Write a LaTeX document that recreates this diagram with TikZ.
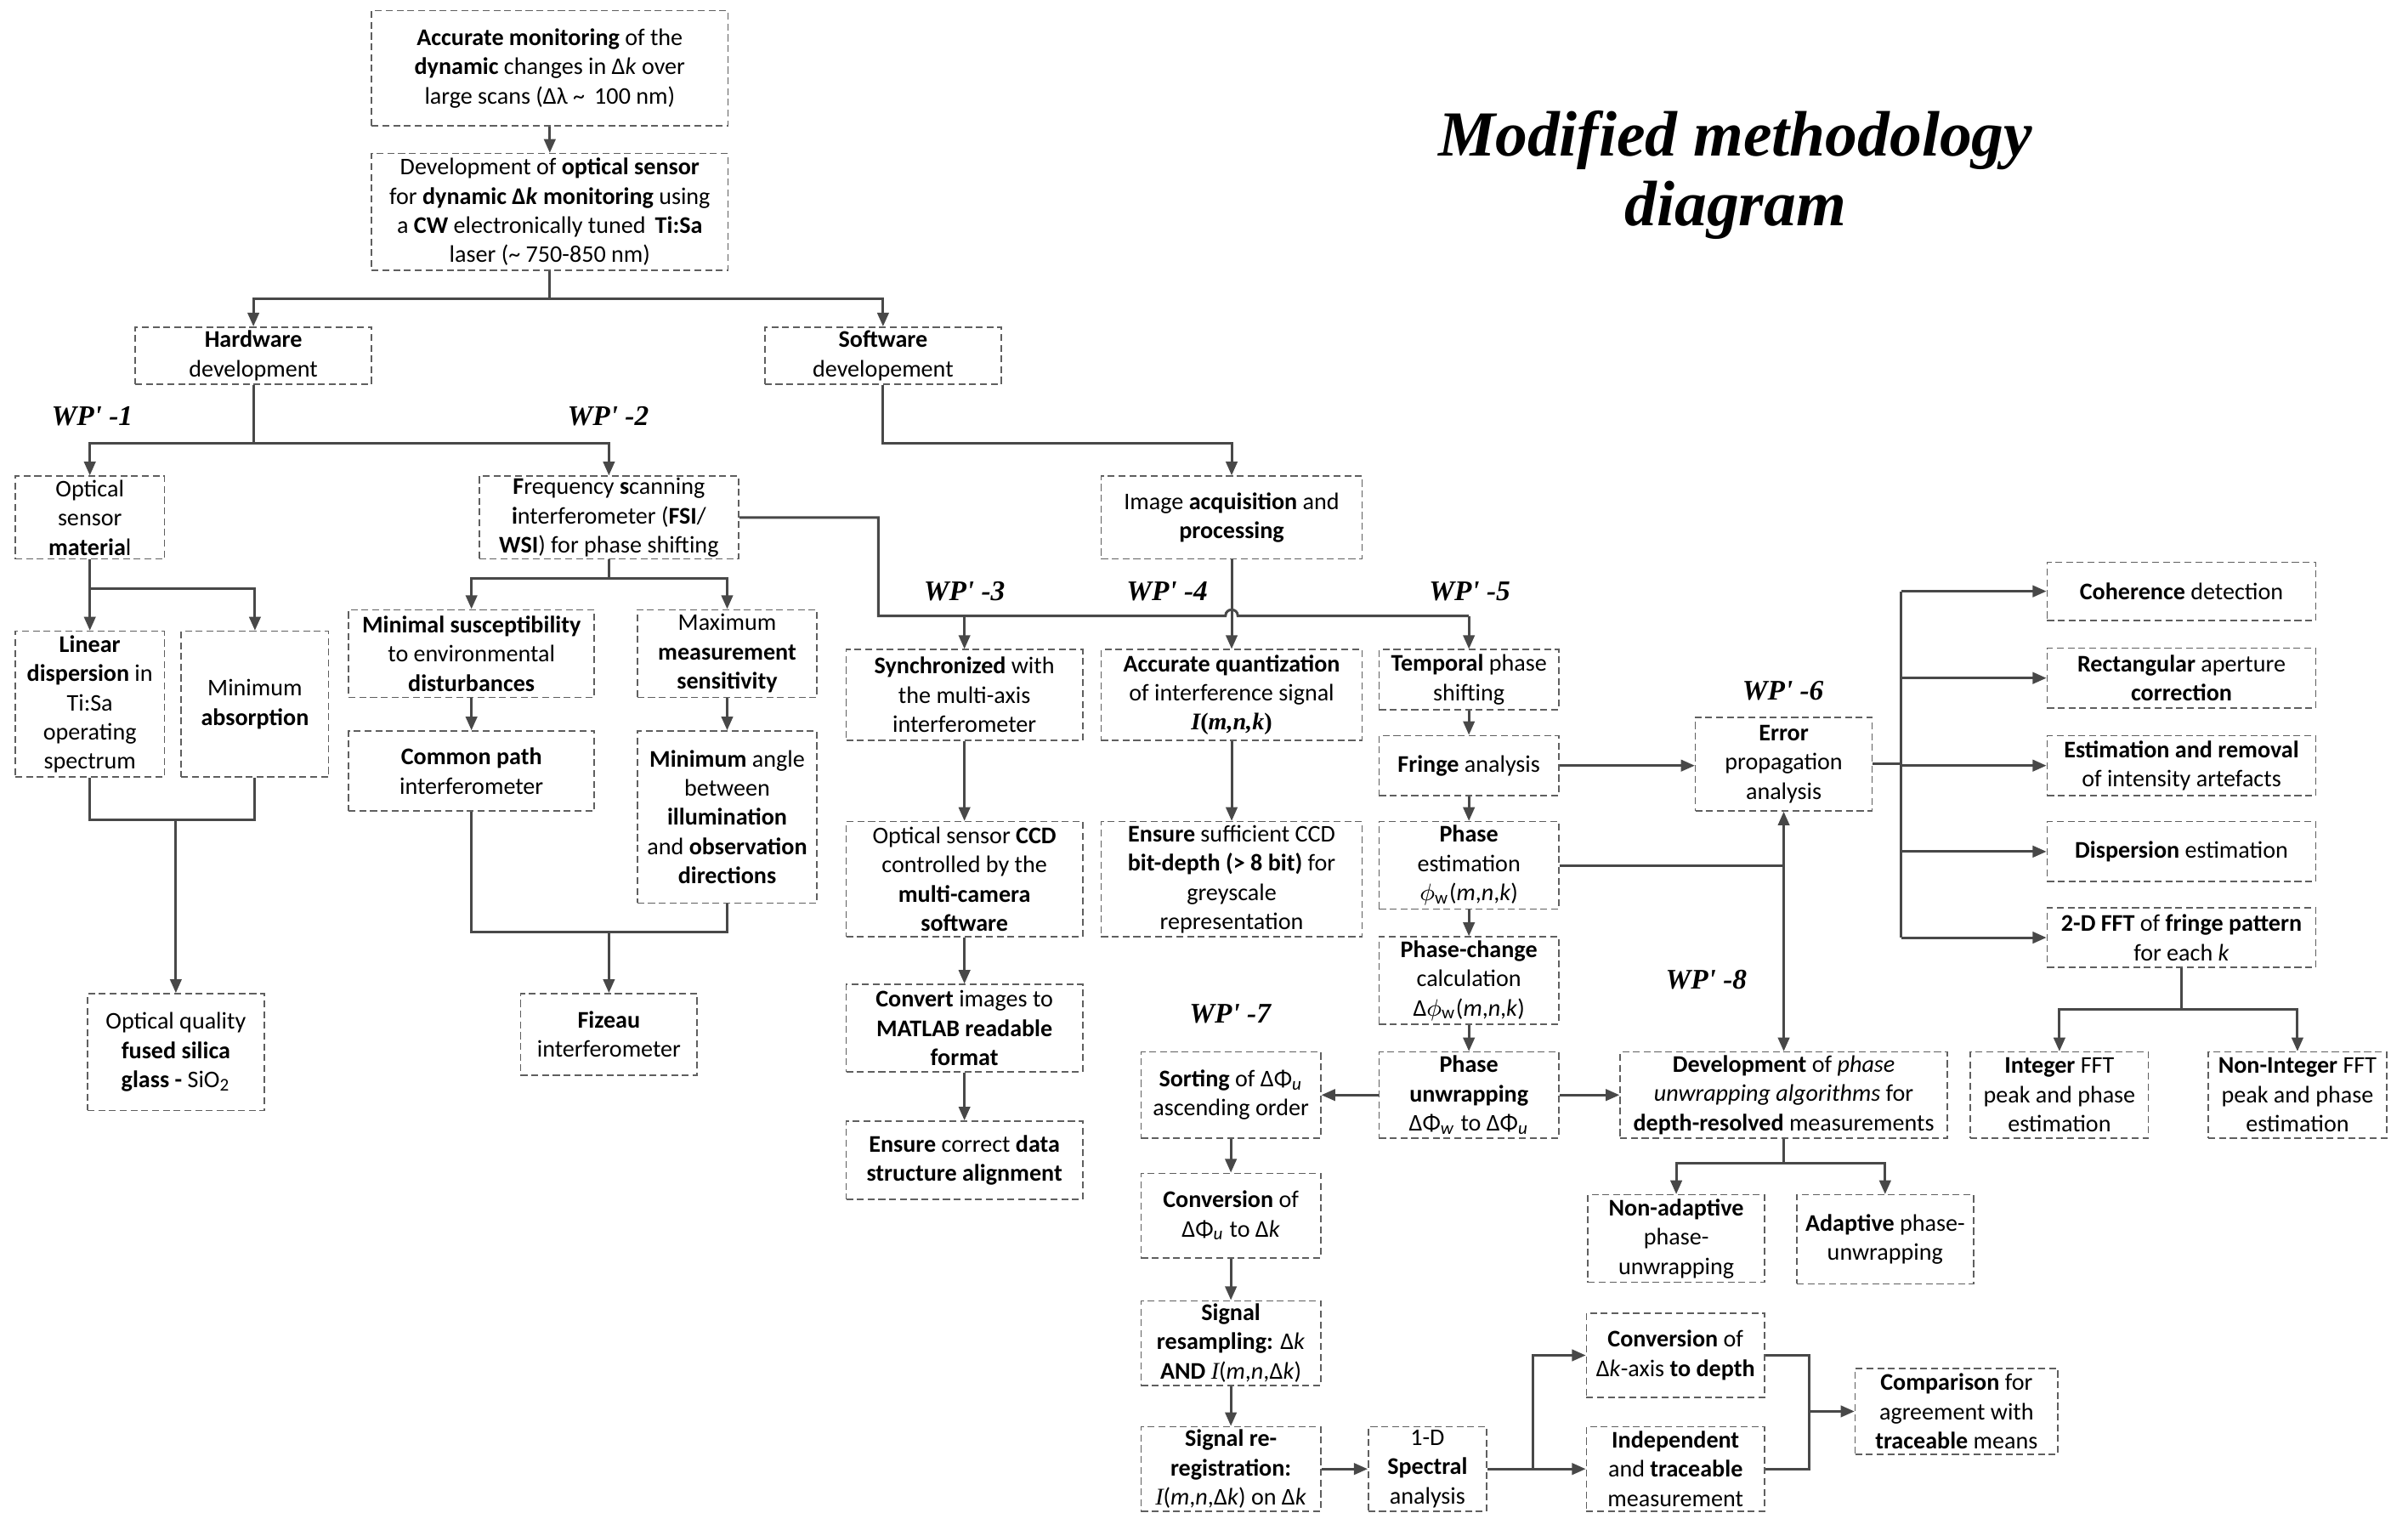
\documentclass[tikz,border=0pt]{standalone}
\usepackage{fontspec}
\setmainfont{Carlito}
\newfontfamily\tnr{Liberation Serif}
\usetikzlibrary{arrows.meta,calc}
\definecolor{ln}{RGB}{72,72,72}
\definecolor{bd}{RGB}{95,95,95}
\tikzset{
 box/.style={draw=bd,line width=0.45pt,dash pattern=on 2.3pt off 1.3pt,align=center,inner sep=0.5pt,font=\fontsize{8}{9.8}\selectfont,text=black},
 line/.style={draw=ln,line width=0.85pt},
 arr/.style={line,-{Triangle[length=4.6pt,width=3.8pt]}},
 wp/.style={font=\tnr\bfseries\itshape\fontsize{9.5}{11}\selectfont,inner sep=0pt},
}
\newcommand\bx[6]{\node[box,minimum width={(#3-#1)*0.018068cm},minimum height={(#4-#2)*0.018068cm}] (#5) at ({(#1+#3)/2},{(#2+#4)/2}) {#6};}
\newcommand\ital[1]{{\tnr\itshape #1}}
\begin{document}
\begin{tikzpicture}[x={(0.018068cm,0)},y={(0,-0.018068cm)}]
\useasboundingbox (0,0) rectangle (1568,985);
% title
\node[font=\tnr\bfseries\itshape\fontsize{21.5}{23.1}\selectfont,align=center] (title) at (1130,114) {Modified methodology\\diagram};
% boxes
\bx{242}{7}{474}{82}{A}{\textbf{Accurate monitoring} of the\\ \textbf{dynamic} changes in Δ\textit{k} over\\ large scans (Δλ \textasciitilde{}\, 100 nm)}
\bx{242}{100}{474}{176}{B}{Development of \textbf{optical sensor}\\ for \textbf{dynamic Δ\textit{k} monitoring} using\\ a \textbf{CW} electronically tuned \,\textbf{Ti:Sa}\\ laser (\textasciitilde{} 750-850 nm)}
\bx{88}{213}{242}{250}{HW}{\textbf{Hardware}\\ development}
\bx{498}{213}{652}{250}{SW}{\textbf{Software}\\ developement}
\bx{10}{310}{107}{364}{OSM}{Optical\\ sensor\\ \textbf{materia}l}
\bx{312}{310}{481}{364}{FSI}{\textbf{F}requency \textbf{s}canning\\ \textbf{i}nterferometer (\textbf{FSI}/\\ \textbf{WSI}) for phase shifting}
\bx{717}{310}{887}{364}{IAP}{Image \textbf{acquisition} and\\ \textbf{processing}}
\bx{10}{411}{107}{506}{LD}{\textbf{Linear}\\ \textbf{dispersion} in\\ Ti:Sa\\ operating\\ spectrum}
\bx{118}{411}{214}{506}{MA}{Minimum\\ \textbf{absorption}}
\bx{227}{397}{387}{454}{MS}{\textbf{Minimal susceptibility}\\ to environmental\\ \textbf{disturbances}}
\bx{415}{397}{532}{454}{MMS}{Maximum\\ \textbf{measurement}\\ \textbf{sensitivity}}
\bx{227}{476}{387}{528}{CP}{\textbf{Common path}\\ interferometer}
\bx{415}{476}{532}{588}{MAng}{\textbf{Minimum} angle\\ between\\ \textbf{illumination}\\ and \textbf{observation}\\ \textbf{directions}}
\bx{57}{647}{172}{723}{OQ}{Optical quality\\ \textbf{fused silica}\\ \textbf{glass -} SiO\textsubscript{2}}
\bx{339}{647}{454}{700}{FZ}{\textbf{Fizeau}\\ interferometer}
\bx{551}{423}{705}{482}{SY}{\textbf{Synchronized} with\\ the multi-axis\\ interferometer}
\bx{717}{423}{887}{482}{AQ}{\textbf{Accurate quantization}\\ of interference signal\\ {\tnr\bfseries\itshape I}{\tnr\bfseries (}{\tnr\bfseries\itshape m,n,k}{\tnr\bfseries )}}
\bx{551}{535}{705}{610}{CCD}{Optical sensor \textbf{CCD}\\ controlled by the\\ \textbf{multi-camera}\\ \textbf{software}}
\bx{717}{535}{887}{610}{EB}{\textbf{Ensure} sufficient CCD\\ \textbf{bit-depth (> 8 bit)} for\\ greyscale\\ representation}
\bx{551}{641}{705}{698}{CV}{\textbf{Convert} images to\\ \textbf{MATLAB readable}\\ \textbf{format}}
\bx{551}{730}{705}{781}{ED}{\textbf{Ensure} correct \textbf{data}\\ \textbf{structure alignment}}
\bx{898}{423}{1015}{462}{TPS}{\textbf{Temporal} phase\\ shifting}
\bx{898}{479}{1015}{518}{FA}{\textbf{Fringe} analysis}
\bx{898}{535}{1015}{592}{PE}{\textbf{Phase}\\ estimation\\ $\phi$\textsubscript{w}(\textit{m},\textit{n},\textit{k})}
\bx{898}{610}{1015}{667}{PCC}{\textbf{Phase-change}\\ calculation\\ Δ$\phi$\textsubscript{w}(\textit{m},\textit{n},\textit{k})}
\bx{898}{685}{1015}{741}{PU}{\textbf{Phase}\\ \textbf{unwrapping}\\ ΔΦ\textsubscript{\textit{w}} to ΔΦ\textsubscript{\textit{u}}}
\bx{1104}{467}{1219}{528}{EPA}{\textbf{Error}\\ propagation\\ analysis}
\bx{1333}{366}{1508}{404}{CD}{\textbf{Coherence} detection}
\bx{1333}{422}{1508}{461}{RA}{\textbf{Rectangular} aperture\\ \textbf{correction}}
\bx{1333}{479}{1508}{518}{ER}{\textbf{Estimation and removal}\\ of intensity artefacts}
\bx{1333}{535}{1508}{574}{DE}{\textbf{Dispersion} estimation}
\bx{1333}{591}{1508}{630}{FFT}{\textbf{2-D FFT} of \textbf{fringe pattern}\\ for each \textit{k}}
\bx{1283}{685}{1399}{741}{IF}{\textbf{Integer} FFT\\ peak and phase\\ estimation}
\bx{1438}{685}{1554}{741}{NIF}{\textbf{Non-Integer} FFT\\ peak and phase\\ estimation}
\bx{1055}{685}{1268}{741}{DEV}{\textbf{Development} of \textit{phase}\\ \textit{unwrapping algorithms} for\\ \textbf{depth-resolved} measurements}
\bx{1034}{778}{1149}{835}{NA}{\textbf{Non-adaptive}\\ phase-\\ unwrapping}
\bx{1170}{778}{1285}{836}{AD}{\textbf{Adaptive} phase-\\ unwrapping}
\bx{743}{685}{860}{741}{SO}{\textbf{Sorting} of ΔΦ\textsubscript{\textit{u}}\\ ascending order}
\bx{743}{764}{860}{819}{CO}{\textbf{Conversion} of\\ ΔΦ\textsubscript{\textit{u}} to Δ\textit{k}}
\bx{743}{847}{860}{902}{SR}{\textbf{Signal}\\ \textbf{resampling:} Δ\textit{k}\\ \textbf{AND} \ital{I}(\textit{m},\textit{n},Δ\textit{k})}
\bx{743}{929}{860}{984}{SRR}{\textbf{Signal re-}\\ \textbf{registration:}\\ \ital{I}(\textit{m},\textit{n},Δ\textit{k}) on Δ\textit{k}}
\bx{891}{929}{968}{984}{SA}{1-D\\ \textbf{Spectral}\\ analysis}
\bx{1033}{855}{1149}{910}{CDp}{\textbf{Conversion} of\\ Δ\textit{k}-axis \textbf{to depth}}
\bx{1033}{929}{1149}{984}{IT}{\textbf{Independent}\\ and \textbf{traceable}\\ measurement}
\bx{1208}{891}{1340}{947}{CMP}{\textbf{Comparison} for\\ agreement with\\ \textbf{traceable} means}
% WP labels
\node[wp] (wp1) at (60,271) {WP\textquotesingle{} -1};
\node[wp] (wp2) at (396,271) {WP\textquotesingle{} -2};
\node[wp] (wp3) at (628,385) {WP\textquotesingle{} -3};
\node[wp] (wp4) at (760,385) {WP\textquotesingle{} -4};
\node[wp] (wp5) at (957,385) {WP\textquotesingle{} -5};
\node[wp] (wp6) at (1161,450) {WP\textquotesingle{} -6};
\node[wp] (wp7) at (801,660) {WP\textquotesingle{} -7};
\node[wp] (wp8) at (1111,638) {WP\textquotesingle{} -8};
% connectors
\draw[arr] (A) -- (B);
\draw[line] (B.south) -- ++(0,18) coordinate (j1);
\draw[arr] (j1) -| (HW.north);
\draw[arr] (j1) -| (SW.north);
\draw[line] (HW.south) -- ++(0,38) coordinate (j2);
\draw[arr] (j2) -| (OSM.north);
\draw[arr] (j2) -| (FSI.north);
\draw[arr] (SW.south) -- ++(0,38) -| (IAP.north);
\draw[line] (OSM.south) -- ++(0,19) coordinate (j3);
\draw[arr] (j3) -| (LD.north);
\draw[arr] (j3) -| (MA.north);
\draw[line] (FSI.south) -- ++(0,12) coordinate (j4);
\draw[arr] (j4) -| (MS.north);
\draw[arr] (j4) -| (MMS.north);
\draw[arr] (MS) -- (CP);
\draw[arr] (MMS) -- (MAng);
\coordinate (b1) at (572,401);
\coordinate (hop) at (IAP.south |- b1);
\draw[line] (FSI.east) -| (b1) -- ($(hop)+(-4,0)$) .. controls ($(hop)+(-4,-5.3)$) and ($(hop)+(4,-5.3)$) .. ($(hop)+(4,0)$) -- (TPS.north |- b1);
\draw[arr] (TPS.north |- b1) -- (TPS.north);
\draw[arr] (SY.north |- b1) -- (SY.north);
\draw[arr] (IAP) -- (AQ);
\draw[arr] (SY) -- (CCD);
\draw[arr] (CCD) -- (CV);
\draw[arr] (CV) -- (ED);
\draw[arr] (AQ) -- (EB);
\coordinate (jq) at (OQ.north |- 0,534);
\draw[line] (LD.south) -- (LD.south |- jq) -- (MA.south |- jq) -- (MA.south);
\draw[arr] (jq) -- (OQ.north);
\coordinate (jf) at (FZ.north |- 0,607);
\draw[line] (CP.south) -- (CP.south |- jf) -- (MAng.south |- jf) -- (MAng.south);
\draw[arr] (jf) -- (FZ.north);
\draw[arr] (TPS) -- (FA);
\draw[arr] (FA) -- (PE);
\draw[arr] (PE) -- (PCC);
\draw[arr] (PCC) -- (PU);
\draw[arr] (FA.east) -- (EPA.west |- FA.east);
\coordinate (jx) at (EPA.south |- PE.east);
\draw[line] (PE.east) -- (jx);
\draw[arr] (jx) -- (EPA.south);
\draw[arr] (jx) -- (DEV.north);
\coordinate (bx) at (1238,0);
\draw[line] (EPA.east) -- (EPA.east -| bx);
\draw[line] (bx |- CD.west) -- (bx |- FFT.west);
\foreach \n in {CD,RA,ER,DE,FFT} \draw[arr] (bx |- \n.west) -- (\n.west);
\draw[line] (FFT.south) -- ++(0,27) coordinate (j6);
\draw[arr] (j6) -| (IF.north);
\draw[arr] (j6) -| (NIF.north);
\draw[arr] (PU.east) -- (DEV.west);
\draw[arr] (PU.west) -- (SO.east);
\draw[line] (DEV.south) -- ++(0,16) coordinate (j7);
\draw[arr] (j7) -| (NA.north);
\draw[arr] (j7) -| (AD.north);
\draw[arr] (SO) -- (CO);
\draw[arr] (CO) -- (SR);
\draw[arr] (SR) -- (SRR);
\draw[arr] (SRR) -- (SA);
\coordinate (js) at (998,956.5);
\draw[line] (SA.east) -- (js);
\draw[arr] (js) |- (CDp.west);
\draw[arr] (js) -- (IT.west);
\coordinate (jc) at (1178,919);
\draw[line] (CDp.east) -- (CDp.east -| jc) -- (IT.east -| jc) -- (IT.east);
\draw[arr] (jc) -- (CMP.west);
\end{tikzpicture}
\end{document}
